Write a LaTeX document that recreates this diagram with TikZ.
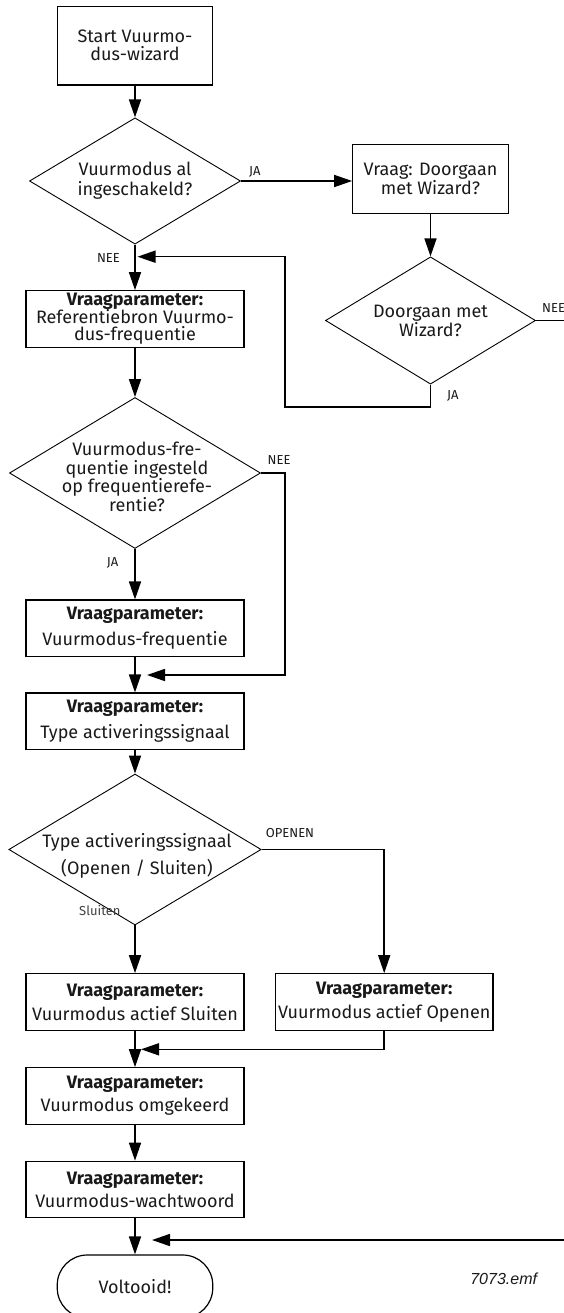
\documentclass[tikz,border=0pt]{standalone}
\usepackage{fontspec}
\setmainfont{Fira Sans}
\newfontfamily\arialfont{Liberation Sans}
\usetikzlibrary{arrows.meta,shapes.geometric,calc}
\begin{document}
\begin{tikzpicture}[x=1pt,y=-1pt,
  every node/.style={font=\fontsize{18}{18}\selectfont, text=black!90},
  procbox/.style={draw, line width=1.2pt, minimum width=218pt, minimum height=56.5pt, inner sep=0pt, align=center},
  termbox/.style={draw, line width=1.2pt, minimum width=155.5pt, inner sep=0pt, align=center},
  dia/.style={draw, diamond, line width=0.9pt, inner sep=0pt},
  dtext/.style={align=center, inner sep=0pt},
  lab/.style={font=\fontsize{13}{15}\selectfont, inner sep=0pt},
  conn/.style={line width=1.6pt, -{Triangle[length=18pt,width=12pt]}},
  line/.style={line width=1.6pt}
]
\useasboundingbox (0,0) rectangle (563,1313);

% nodes
\node[termbox, minimum height=78.3pt] (start) at (135,45.8) {Start Vuurmo-\\dus-wizard};
\node[dia, minimum width=211pt, minimum height=126.3pt] (d1) at (135,181) {};
\node[dtext] (d1t) at (d1) {Vuurmodus al\\[2pt]ingeschakeld?};
\node[termbox, minimum height=69pt] (vraag) at (430.5,178.8) {Vraag: Doorgaan\\[1pt]met Wizard?};
\node[dia, minimum width=210pt, minimum height=127.3pt] (d2) at (430.5,320.5) {};
\node[dtext] (d2t) at (d2) {Doorgaan met\\[1pt]Wizard?};
\node[procbox] (b3) at (135,319) {\textbf{Vraagparameter:}\\[-1pt]Referentiebron Vuurmo-\\[-1pt]dus-frequentie};
\node[dia, minimum width=251pt, minimum height=151pt] (d3) at (135,473) {};
\node[dtext] (d3t) at (137,477) {Vuurmodus-fre-\\[0.5pt]quentie ingesteld\\[0.5pt]op frequentierefe-\\[0.5pt]rentie?};
\node[procbox] (b4) at (135,628.3) {\textbf{Vraagparameter:}\\[7pt]Vuurmodus-frequentie};
\node[procbox] (b5) at (135,721.3) {\textbf{Vraagparameter:}\\[7pt]Type activeringssignaal};
\node[dia, minimum width=252.4pt, minimum height=151pt] (d4) at (135,849.5) {};
\node[dtext] (d4t) at (137,856) {Type activeringssignaal\\[7pt](Openen / Sluiten)};
\node[procbox] (bS) at (135,1002) {\textbf{Vraagparameter:}\\[5pt]Vuurmodus actief Sluiten};
\node[procbox, minimum width=217.6pt] (bO) at (384.2,1002) {\textbf{Vraagparameter:}\\[5pt]Vuurmodus actief Openen};
\node[procbox] (b7) at (135,1096) {\textbf{Vraagparameter:}\\[5pt]Vuurmodus omgekeerd};
\node[procbox] (b8) at (135,1189.5) {\textbf{Vraagparameter:}\\[5pt]Vuurmodus-wachtwoord};
\node[termbox, rounded corners=30pt, minimum height=63pt] (endn) at (135,1286.5) {Voltooid!};
\node[inner sep=0pt, font=\arialfont\itshape\fontsize{16}{18}\selectfont] (fname) at (503.7,1279) {7073.emf};

% labels
\node[lab, anchor=west] (l1) at (249,172) {JA};
\node[lab, anchor=west] (l2) at (542,308) {NEE};
\node[lab, anchor=west] (l3) at (447,396) {JA};
\node[lab, anchor=east] (l4) at (120,258) {NEE};
\node[lab, anchor=west] (l5) at (267.5,460) {NEE};
\node[lab, anchor=east] (l6) at (118.5,563) {JA};
\node[lab, anchor=west] (l7) at (265.7,833) {OPENEN};
\node[lab, anchor=west, text=black!75] (l8) at (79,910) {Sluiten};

% junction coordinates
\coordinate (c1) at (284.7,406.7);
\coordinate (c2) at (284.7,256.7);
\coordinate (j1) at (137.5,256.7);
\coordinate (c3) at (600,1240);
\coordinate (j5) at (152,1240);
\coordinate (c4) at (284.7,675);
\coordinate (j2) at (147,675);
\coordinate (j3) at (141,1049.3);

% connectors
\draw[conn] (start) -- (d1);
\draw[conn] (d1.east) -- (d1.east -| vraag.west);
\draw[conn] (vraag) -- (d2);
\draw[conn] (d2.south) |- (c1) -- (c2) -- (j1);
\draw[conn] (d2.east) -| (c3) -- (j5);
\draw[conn] (d1) -- (b3);
\draw[conn] (b3) -- (d3);
\draw[conn] (d3) -- (b4);
\draw[conn] (d3.east) -| (c4) -- (j2);
\draw[conn] (b4) -- (b5);
\draw[conn] (b5) -- (d4);
\draw[conn] (d4) -- (bS);
\draw[conn] (d4.east) -| (bO.north);
\draw[conn] (bO.south) |- (j3);
\draw[conn] (bS) -- (b7);
\draw[conn] (b7) -- (b8);
\draw[conn] (b8) -- (endn);
\end{tikzpicture}
\end{document}
